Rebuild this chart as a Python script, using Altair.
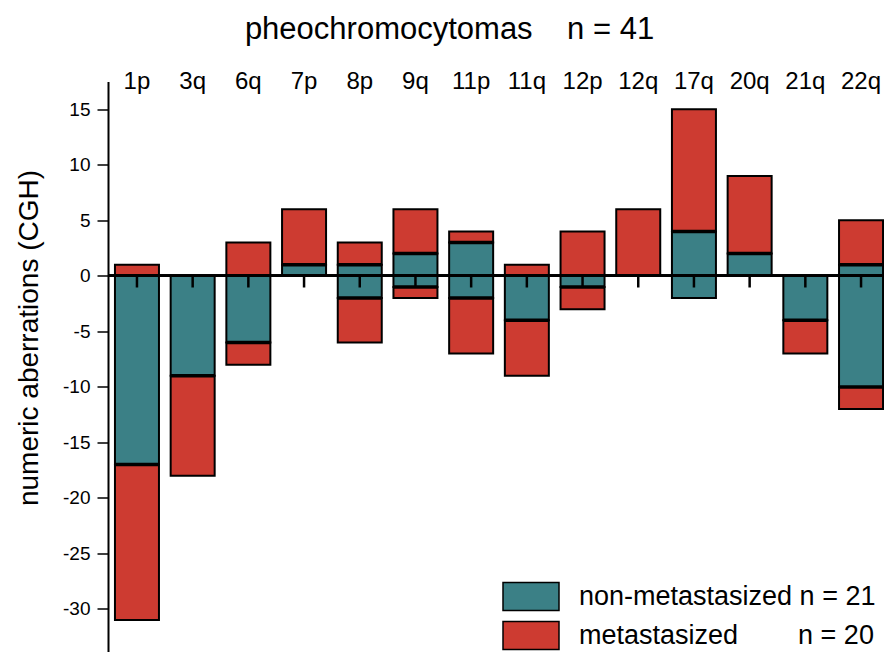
import altair as alt
import pandas as pd

chromosomes = ["1p", "3q", "6q", "7p", "8p", "9q", "11p", "11q", "12p", "12q", "17q", "20q", "21q", "22q"]
gain_nonmet = [0, 0, 0, 1, 1, 2, 3, 0, 0, 0, 4, 2, 0, 1]
gain_met = [1, 0, 3, 5, 2, 4, 1, 1, 4, 6, 11, 7, 0, 4]
loss_nonmet = [17, 9, 6, 0, 2, 1, 2, 4, 1, 0, 2, 0, 4, 10]
loss_met = [14, 9, 2, 0, 4, 1, 5, 5, 2, 0, 0, 0, 3, 2]

NB = "\u00a0"
lab_non = "non-metastasized n = 21"
lab_met = "metastasized" + NB * 8 + "n = 20"
title_text = "pheochromocytomas" + NB * 3 + " n = 41"

TEAL = "#3b8086"
RED = "#cd3b31"
FONT = "Liberation Sans"

rows = []
bounds = []
for c, gn, gm, ln, lm in zip(chromosomes, gain_nonmet, gain_met, loss_nonmet, loss_met):
    if gn > 0:
        rows.append({"chrom": c, "group": lab_non, "y0": 0, "y1": gn})
    if gm > 0:
        rows.append({"chrom": c, "group": lab_met, "y0": gn, "y1": gn + gm})
    if ln > 0:
        rows.append({"chrom": c, "group": lab_non, "y0": 0, "y1": -ln})
    if lm > 0:
        rows.append({"chrom": c, "group": lab_met, "y0": -ln, "y1": -(ln + lm)})
    if gn > 0 and gm > 0:
        bounds.append({"chrom": c, "yb": gn})
    if ln > 0 and lm > 0:
        bounds.append({"chrom": c, "yb": -ln})

df = pd.DataFrame(rows)
df_b = pd.DataFrame(bounds)
df_t = pd.DataFrame({"chrom": chromosomes})

y_values = [v / 2 for v in range(-70, 36, 5)]

xscale = alt.Scale(range=[0, 782], paddingInner=0.21, paddingOuter=0.125)
yscale = alt.Scale(domain=[-35, 17.5], range=[583, 0], nice=False, zero=False)

x_enc = alt.X(
    "chrom:N", sort=chromosomes, scale=xscale,
    axis=alt.Axis(orient="top", title=title_text, domain=False, ticks=False, tickSize=0,
                  labelAngle=0, labelFontSize=24, labelFont=FONT, labelColor="black",
                  labelPadding=-6.5, labelBaseline="alphabetic",
                  titleFontSize=31, titleFont=FONT, titleFontWeight="normal", titleColor="black",
                  titleX=341, titleY=-43.5, titleAlign="center", titleBaseline="alphabetic",
                  titleAngle=0),
)

bars = alt.Chart(df).mark_bar(stroke="black", strokeWidth=2).encode(
    x=x_enc,
    y=alt.Y("y0:Q", scale=yscale,
            axis=alt.Axis(title="numeric aberrations (CGH)", values=y_values,
                          labelExpr="datum.value % 5 === 0 && datum.value > -33 ? '' + datum.value : ''",
                          tickSize={"condition": {"test": "datum.value % 5 === 0", "value": 11}, "value": 6},
                          tickColor="black", tickWidth=1.5, domainColor="black", domainWidth=2,
                          labelFontSize=19, labelFont=FONT, labelColor="black", labelPadding=7,
                          grid=False, titleFontSize=28, titleFont=FONT, titleFontWeight="normal",
                          titleColor="black", titleX=-71, titleY=256, titleAngle=-90,
                          titleAlign="center", titleBaseline="alphabetic")),
    y2="y1:Q",
    color=alt.Color("group:N", scale=alt.Scale(domain=[lab_non, lab_met], range=[TEAL, RED]),
                    legend=alt.Legend(orient="none", legendX=408, legendY=500, title=None,
                                      symbolType="M-2,-1H2V1H-2Z", symbolSize=784,
                                      symbolStrokeColor="black", symbolStrokeWidth=1.5,
                                      symbolOpacity=1,
                                      labelFontSize=27, labelFont=FONT, labelColor="black",
                                      labelOffset=33, rowPadding=5, padding=0, labelLimit=0)),
)

boundary = alt.Chart(df_b).mark_bar(stroke="black", strokeWidth=3.5, fillOpacity=0).encode(
    x=alt.X("chrom:N", sort=chromosomes, scale=xscale),
    y=alt.Y("yb:Q", scale=yscale),
    y2="yb:Q",
)

zero = alt.Chart(df_t).mark_rule(color="black", strokeWidth=2).encode(y=alt.datum(0))

ticks = alt.Chart(df_t).mark_rule(color="black", strokeWidth=2.5).encode(
    x=alt.X("chrom:N", sort=chromosomes, scale=xscale),
    y=alt.datum(0),
    y2=alt.datum(-1.05),
)

chart = alt.layer(bars, boundary, zero, ticks).properties(
    width=776, height=570,
    autosize=alt.AutoSizeParams(type="none"),
    padding={"left": 100, "top": 73.5, "right": 0, "bottom": 0},
).configure_view(stroke=None)

chart.save("out.html", embed_options={"renderer": "svg", "actions": False})
